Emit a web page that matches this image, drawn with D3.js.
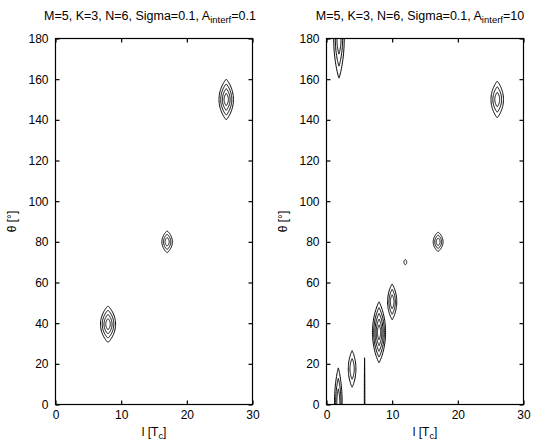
<!DOCTYPE html>
<html>
<head>
<meta charset="utf-8">
<script src="https://cdn.jsdelivr.net/npm/d3@7"></script>
<style>
  html, body { margin: 0; padding: 0; background: #fff; }
  svg { display: block; }
  text { font-family: "Liberation Sans", Arial, sans-serif; fill: #000; }
</style>
</head>
<body>
<svg id="chart" width="545" height="445"></svg>
<script>
// Axis ticks
const tauTicks = [0, 10, 20, 30];
const thetaTicks = [0, 20, 40, 60, 80, 100, 120, 140, 160, 180];

// Spectrum peaks: delay tau [Tc], angle theta [deg], half-widths (ta, tb), number of contour rings
const peaksLowInterf = [
  { tau: 8.0,  theta: 39.5,  ta: 1.15, tb: 9.0,  rings: 4 },
  { tau: 17.0, theta: 80.0,  ta: 0.80, tb: 5.4,  rings: 3 },
  { tau: 26.0, theta: 150.0, ta: 1.10, tb: 10.0, rings: 4 }
];
const peaksHighInterf = [
  { tau: 26.0, theta: 150.0, ta: 0.95, tb: 9.0,  rings: 3 },
  { tau: 17.0, theta: 80.0,  ta: 0.75, tb: 4.8,  rings: 3 },
  { tau: 12.0, theta: 70.0,  ta: 0.22, tb: 1.3,  rings: 1 },
  { tau: 10.0, theta: 50.5,  ta: 0.70, tb: 8.8,  rings: 3 },
  { tau: 8.0,  theta: 35.5,  ta: 1.00, tb: 15.0, rings: 5 },
  { tau: 3.9,  theta: 17.5,  ta: 0.58, tb: 9.0,  rings: 2 },
  { tau: 5.8,  theta: 0.0,   ta: 0.04, tb: 23.0, rings: 1 },
  { tau: 1.8,  theta: 1.0,   ta: 0.58, tb: 17.0, rings: 3 },
  { tau: 1.9,  theta: 180.0, ta: 0.80, tb: 19.5, rings: 3 }
];

const panels = [
  { x0: 55.5, x1: 252.5, title: ["M=5, K=3, N=6, Sigma=0.1, A", "interf", "=0.1"], titleX: 150, peaks: peaksLowInterf },
  { x0: 326.5, x1: 523.5, title: ["M=5, K=3, N=6, Sigma=0.1, A", "interf", "=10"], titleX: 420, peaks: peaksHighInterf }
];
const yTop = 38.5, yBot = 404.5;

const svg = d3.select("#chart");

panels.forEach((p, i) => {
  const x = d3.scaleLinear().domain([0, 30]).range([p.x0, p.x1]);
  const y = d3.scaleLinear().domain([0, 180]).range([yBot, yTop]);
  const g = svg.append("g");

  const clipId = "clip" + i;
  svg.append("clipPath").attr("id", clipId)
    .append("rect").attr("x", p.x0).attr("y", yTop)
    .attr("width", p.x1 - p.x0).attr("height", yBot - yTop);

  // contour rings: pointed lens outlines shrinking toward the peak
  const line = d3.line().x(d => x(d[0])).y(d => y(d[1])).curve(d3.curveLinearClosed);
  const cg = g.append("g").attr("clip-path", `url(#${clipId})`);
  p.peaks.forEach(pk => {
    for (let k = 0; k < pk.rings; k++) {
      const s = 1 - k / (pk.rings + 0.3);
      const pts = d3.range(0, 96).map(j => {
        const t = j / 96 * 2 * Math.PI;
        const c = Math.cos(t);
        return [pk.tau + pk.ta * s * Math.sign(c) * Math.pow(Math.abs(c), 1.8),
                pk.theta + pk.tb * s * Math.sin(t)];
      });
      cg.append("path").attr("d", line(pts))
        .attr("fill", "none").attr("stroke", "#000").attr("stroke-width", 1);
    }
  });

  // box
  g.append("rect").attr("x", p.x0).attr("y", yTop)
    .attr("width", p.x1 - p.x0).attr("height", yBot - yTop)
    .attr("fill", "none").attr("stroke", "#000").attr("stroke-width", 1.2);

  // axes with inward ticks on all four sides
  const fmt = d3.format("d");
  const axB = d3.axisBottom(x).tickValues(tauTicks).tickSize(-4).tickPadding(6).tickFormat(fmt);
  const axT = d3.axisTop(x).tickValues(tauTicks).tickSize(-4).tickFormat("");
  const axL = d3.axisLeft(y).tickValues(thetaTicks).tickSize(-4).tickPadding(7).tickFormat(fmt);
  const axR = d3.axisRight(y).tickValues(thetaTicks).tickSize(-4).tickFormat("");
  [[axB, `translate(0,${yBot})`], [axT, `translate(0,${yTop})`],
   [axL, `translate(${p.x0},0)`], [axR, `translate(${p.x1},0)`]].forEach(([ax, tr]) => {
    const a = g.append("g").attr("transform", tr).call(ax);
    a.select(".domain").remove();
    a.selectAll("line").attr("stroke", "#000").attr("stroke-width", 1.2);
    a.selectAll("text").attr("font-size", 12).attr("font-family", "Liberation Sans, Arial, sans-serif").attr("fill", "#000");
  });

  // title with subscript
  const tt = g.append("text").attr("x", p.titleX).attr("y", 20)
    .attr("text-anchor", "middle").attr("font-size", 12.5);
  tt.append("tspan").text(p.title[0]);
  tt.append("tspan").attr("font-size", 9.5).attr("dy", 3).text(p.title[1]);
  tt.append("tspan").attr("dy", -3).text(p.title[2]);

  // x label
  const xl = g.append("text").attr("x", (p.x0 + p.x1) / 2).attr("y", 436)
    .attr("text-anchor", "middle").attr("font-size", 12);
  xl.append("tspan").text("l [T");
  xl.append("tspan").attr("font-size", 9).attr("dy", 3).text("c");
  xl.append("tspan").attr("dy", -3).text("]");

  // y label
  g.append("text")
    .attr("transform", `translate(${p.x0 - 40},${(yTop + yBot) / 2}) rotate(-90)`)
    .attr("text-anchor", "middle").attr("font-size", 12)
    .text("θ [°]");
});
</script>
</body>
</html>
